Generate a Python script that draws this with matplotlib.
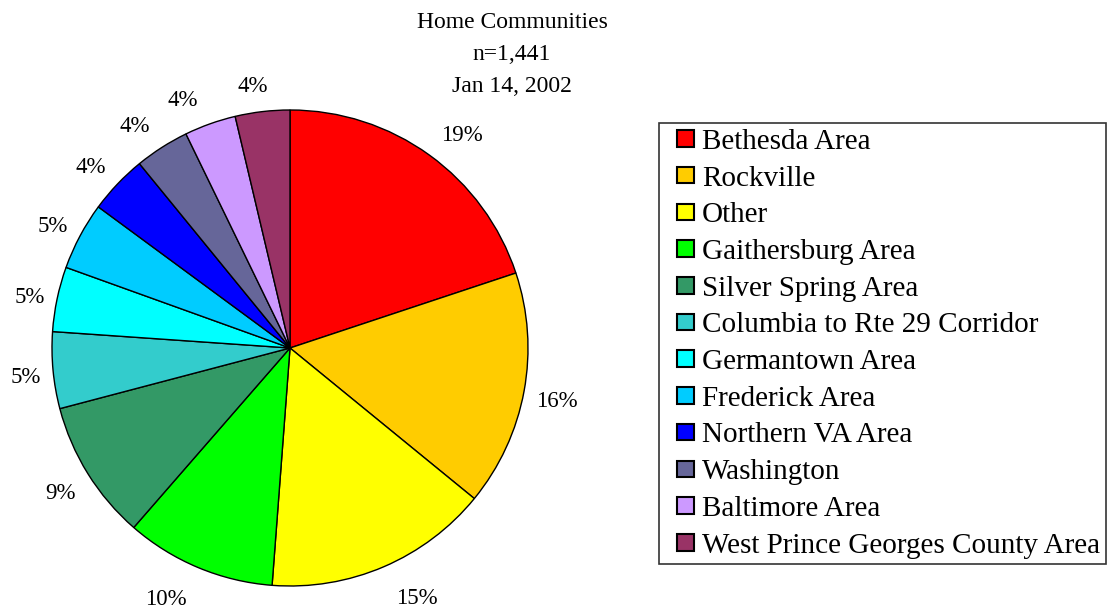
import matplotlib
matplotlib.use("Agg")
import matplotlib.pyplot as plt
import numpy as np
from matplotlib.patches import Rectangle
from matplotlib.legend_handler import HandlerPatch
from matplotlib.transforms import ScaledTranslation

plt.rcParams['font.family'] = ['Liberation Serif', 'DejaVu Serif']

# données (parts en %, sens horaire depuis midi)
communities = ['Bethesda Area', 'Rockville', 'Other', 'Gaithersburg Area',
               'Silver Spring Area', 'Columbia to Rte 29 Corridor',
               'Germantown Area', 'Frederick Area', 'Northern VA Area',
               'Washington', 'Baltimore Area', 'West Prince Georges County Area']
shares = [19.9, 16.0, 15.3, 10.2, 9.5, 5.2, 4.4, 4.6, 4.0, 3.7, 3.5, 3.7]
pct_labels = ['19%', '16%', '15%', '10%', '9%', '5%', '5%', '5%',
              '4%', '4%', '4%', '4%']
colors = ['#FF0000', '#FFCC00', '#FFFF00', '#00FF00', '#339966', '#33CCCC',
          '#00FFFF', '#00CCFF', '#0000FF', '#666699', '#CC99FF', '#993366']
title_lines = ['Home Communities', 'n=1,441', 'Jan 14, 2002']

W, H = 1116, 613
fig = plt.figure(figsize=(W / 100, H / 100), dpi=100)
fig.patch.set_facecolor('white')

# axe du camembert : centre (290, 348), rayon 238 px
cx, cy, r = 290, 348, 238
ax = fig.add_axes([(cx - r) / W, (H - cy - r) / H, 2 * r / W, 2 * r / H])
wedges, texts = ax.pie(shares, labels=pct_labels, colors=colors,
                       startangle=90, counterclock=False, radius=1,
                       labeldistance=1.144,
                       wedgeprops=dict(edgecolor='black', linewidth=1.0),
                       textprops=dict(fontsize=16.5))
for w in wedges:
    w.set_clip_on(False)
ax.set_xlim(-1, 1)
ax.set_ylim(-1, 1)
ax.set_aspect('equal')
ax.axis('off')

# étiquettes placées à la façon d'Excel : décalage horizontal fixe après le bord
fig.canvas.draw()
shift = ScaledTranslation(0, -4.5 / 100, fig.dpi_scale_trans)
for w, t in zip(wedges, texts):
    th = np.deg2rad((w.theta1 + w.theta2) / 2)
    dx, dy = np.cos(th), np.sin(th)
    half_w = t.get_window_extent().width / 2
    x = dx + np.clip(3 * dx, -1, 1) * (half_w + 12) / r
    y = dy * (1 + 30 / r)
    t.set_position((x, y))
    t.set_ha('center')
    t.set_va('center')
    t.set_transform(ax.transData + shift)

# titre sur trois lignes
for i, line in enumerate(title_lines):
    fig.text(512 / W, 1 - (23 + 32 * i) / H, line, ha='center', va='center',
             fontsize=17)


# petit carré collé à droite de la zone de poignée
def square_handle(legend, orig_handle, xdescent, ydescent, width, height, fontsize):
    return Rectangle((width - height - xdescent, -ydescent), height, height)


handles = [Rectangle((0, 0), 1, 1, facecolor=c, edgecolor='black', linewidth=1.5)
           for c in colors]
leg = fig.legend(handles, communities, loc='upper left',
                 bbox_to_anchor=(659 / W, 1 - 123 / H),
                 handler_map={Rectangle: HandlerPatch(patch_func=square_handle)},
                 frameon=True, fancybox=False, shadow=False,
                 fontsize=21, handlelength=0.99, handleheight=0.5,
                 handletextpad=0.29, labelspacing=0.367, borderpad=0.2,
                 borderaxespad=0)
leg.get_frame().set_edgecolor('black')
leg.get_frame().set_linewidth(1.2)

fig.savefig('out.png', dpi=100, facecolor='white')
